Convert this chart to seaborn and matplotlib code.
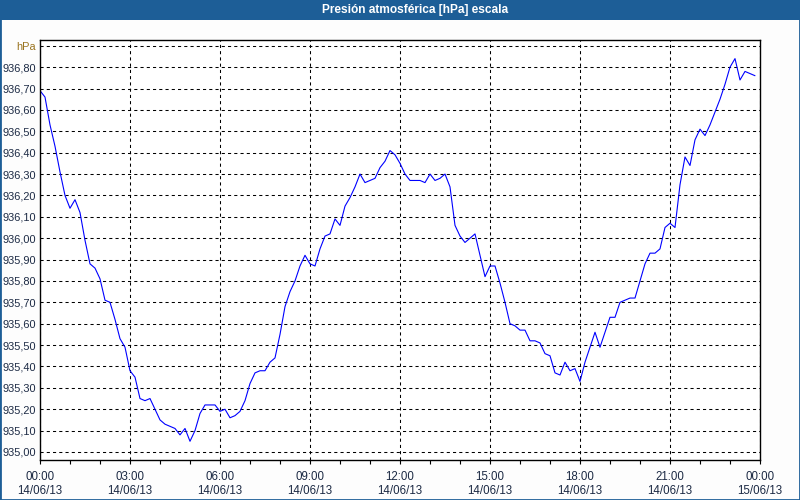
import numpy as np
import pandas as pd
import matplotlib
matplotlib.use("Agg")
import matplotlib.pyplot as plt
import matplotlib.patches as mpatches
import seaborn as sns

title = "Presión atmosférica [hPa] escala"
y_unit = "hPa"
start = "2013-06-14 00:00"
step_minutes = 10
pressure = [
    936.69, 936.66, 936.53, 936.43, 936.31, 936.20, 936.14, 936.18, 936.12, 935.99,
    935.88, 935.86, 935.81, 935.71, 935.70, 935.62, 935.53, 935.49, 935.38, 935.35,
    935.25, 935.24, 935.25, 935.20, 935.15, 935.13, 935.12, 935.11, 935.08, 935.11,
    935.05, 935.10, 935.18, 935.22, 935.22, 935.22, 935.19, 935.20, 935.16, 935.17,
    935.19, 935.24, 935.32, 935.37, 935.38, 935.38, 935.42, 935.44, 935.55, 935.68,
    935.75, 935.80, 935.87, 935.92, 935.88, 935.87, 935.95, 936.01, 936.02, 936.09,
    936.06, 936.15, 936.19, 936.24, 936.30, 936.26, 936.27, 936.28, 936.33, 936.36,
    936.41, 936.39, 936.35, 936.30, 936.27, 936.27, 936.27, 936.26, 936.30, 936.27,
    936.28, 936.30, 936.24, 936.06, 936.01, 935.98, 936.00, 936.02, 935.92, 935.82,
    935.87, 935.87, 935.79, 935.70, 935.60, 935.59, 935.57, 935.57, 935.52, 935.52,
    935.51, 935.46, 935.45, 935.37, 935.36, 935.42, 935.38, 935.39, 935.33, 935.42,
    935.49, 935.56, 935.49, 935.56, 935.63, 935.63, 935.70, 935.71, 935.72, 935.72,
    935.80, 935.88, 935.93, 935.93, 935.95, 936.05, 936.07, 936.05, 936.25, 936.38,
    936.34, 936.46, 936.51, 936.48, 936.53, 936.59, 936.65, 936.72, 936.80, 936.84,
    936.74, 936.78, 936.77, 936.76,
]
y_ticks = [935.0, 935.1, 935.2, 935.3, 935.4, 935.5, 935.6, 935.7, 935.8, 935.9,
           936.0, 936.1, 936.2, 936.3, 936.4, 936.5, 936.6, 936.7, 936.8, 936.9]
x_tick_labels = ["00:00\n14/06/13", "03:00\n14/06/13", "06:00\n14/06/13",
                 "09:00\n14/06/13", "12:00\n14/06/13", "15:00\n14/06/13",
                 "18:00\n14/06/13", "21:00\n14/06/13", "00:00\n15/06/13"]

sns.set_style("white")
plt.rcParams["font.family"] = ["Liberation Sans", "DejaVu Sans"]

hours = np.arange(len(pressure)) * step_minutes / 60.0
df = pd.DataFrame({"hours": hours, "pressure": pressure})

fig = plt.figure(figsize=(8, 5), dpi=100, facecolor="#fdfdfd")
ax = fig.add_axes([0.05, 0.08, 0.90, 0.84])
ax.set_facecolor("white")

sns.lineplot(data=df, x="hours", y="pressure", ax=ax, color="#0000ff",
             linewidth=0.8, estimator=None)

ax.set_xlim(0, 24)
ax.set_ylim(934.9625, 936.927)

ax.set_yticks(y_ticks)
ylabels = [f"{v:.2f}".replace(".", ",") for v in y_ticks[:-1]] + [y_unit]
ax.set_yticklabels(ylabels)
for t in ax.get_yticklabels():
    t.set_color("#1c2a44")
ax.get_yticklabels()[-1].set_color("#9a7420")

ax.set_xticks(np.arange(0, 25, 3))
ax.set_xticklabels(x_tick_labels, linespacing=1.25)
ax.set_xticks(np.arange(0, 25, 1), minor=True)

ax.tick_params(axis="x", which="both", direction="out", length=3, width=0.8,
               color="black", labelsize=8.3, labelcolor="#1c2a44", pad=5, bottom=True)
ax.tick_params(axis="y", which="both", length=0, labelsize=7.9, pad=3, left=False)

ax.grid(True, which="major", axis="both", color="black", linestyle=(0, (3, 3)),
        linewidth=0.75)
for s in ax.spines.values():
    s.set_visible(True)
    s.set_color("black")
    s.set_linewidth(1.0)

ax.set_xlabel("")
ax.set_ylabel("")

# title bar
fig.patches.append(mpatches.Rectangle((0, 1 - 20 / 500), 1, 20 / 500,
                                      transform=fig.transFigure,
                                      facecolor="#1d5e97", edgecolor="none",
                                      zorder=0))
fig.text(415.5 / 800, 1 - 10 / 500, title, ha="center", va="center", color="white",
         fontsize=8.6, fontweight="bold")
# window border
fig.patches.append(mpatches.Rectangle((0, 0), 1, 1, transform=fig.transFigure,
                                      facecolor="none", edgecolor="#1d5e97",
                                      linewidth=2, zorder=0))

fig.savefig("out.png", dpi=100, facecolor=fig.get_facecolor())
